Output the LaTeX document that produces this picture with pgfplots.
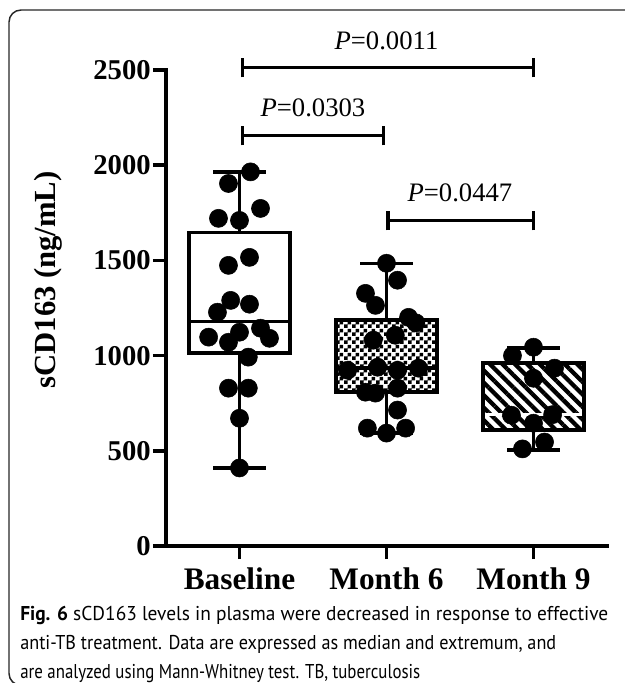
\documentclass[border=0pt]{standalone}
\usepackage{fontspec}
\usepackage{graphicx}
\setmainfont{Liberation Serif}
\newfontfamily\capfont{PT Sans}
\usepackage{pgfplots}
\pgfplotsset{compat=1.18}
\usepgfplotslibrary{statistics}
\usetikzlibrary{patterns,patterns.meta}
\pgfdeclarepatternformonly{mychecker}{\pgfpointorigin}{\pgfqpoint{5.6pt}{5.6pt}}{\pgfqpoint{5.6pt}{5.6pt}}{%
  \pgfpathrectangle{\pgfpointorigin}{\pgfqpoint{2.8pt}{2.8pt}}%
  \pgfpathrectangle{\pgfqpoint{2.8pt}{2.8pt}}{\pgfqpoint{2.8pt}{2.8pt}}%
  \pgfusepath{fill}}
\begin{document}
\begin{tikzpicture}
\useasboundingbox (0,0) rectangle (468.75pt,-512.25pt);
\draw[line width=1.1pt, black!85] (470pt,-7.5pt) -- (15.75pt,-7.5pt) arc[start angle=90,end angle=180,radius=9pt] -- (6.75pt,-505pt) arc[start angle=180,end angle=270,radius=9pt] -- (470pt,-514pt);
\begin{axis}[
  at={(124.5pt,-409.5pt)}, anchor=south west,
  scale only axis, width=330.75pt, height=357pt,
  xmin=0.5, xmax=3.5, ymin=0, ymax=2500,
  axis x line*=bottom, axis y line*=left,
  axis line style={line width=2.6pt, line cap=rect},
  xtick={1,2,3}, xticklabels={Baseline,Month 6,Month 9},
  ytick={0,500,1000,1500,2000,2500},
  tick style={line width=2.6pt, black},
  major tick length=9.75pt,
  tick align=outside,
  /pgf/number format/assume math mode=true,
  /pgf/number format/1000 sep={},
  yticklabel style={font=\bfseries\fontsize{21.5}{21.5}\selectfont, inner sep=1.5pt},
  xticklabel style={font=\bfseries\fontsize{23.5}{23.5}\selectfont, inner sep=2pt, yshift=-4pt},
  ylabel={\textbf{sCD163 (ng/mL)}},
  ylabel style={font=\fontsize{23}{23}\selectfont, at={(axis description cs:-0.268,0.559)}, anchor=center},
  clip=false,
  boxplot/draw direction=y,
]
\addplot[black, line width=2.6pt, boxplot prepared={draw position=1, median=1178, upper quartile=1647, lower quartile=1013, upper whisker=1965, lower whisker=410, box extend=0.687, whisker extend=0.354},
  boxplot/every box/.style={fill=white}] coordinates {};
\addplot[black, line width=2.6pt, boxplot prepared={draw position=2, median=935, upper quartile=1188, lower quartile=808, upper whisker=1485, lower whisker=593, box extend=0.687, whisker extend=0.354},
  boxplot/every box/.style={pattern=mychecker, pattern color=black}] coordinates {};
\addplot[black, line width=2.6pt, boxplot prepared={draw position=3, median=692, upper quartile=960, lower quartile=609, upper whisker=1040, lower whisker=504, box extend=0.687, whisker extend=0.354},
  boxplot/every box/.style={pattern={Lines[angle=-45,distance=6.6pt,line width=3.2pt]}, pattern color=black},
  boxplot/every median/.style={draw=white, line width=2.4pt, shorten <=1.4pt, shorten >=1.4pt}] coordinates {};
% data points
\addplot[only marks, mark=*, mark size=6.8pt, black] coordinates {
 (1.075,1965) (0.925,1904) (1.143,1773) (0.857,1721) (1.0,1710)
 (1.068,1516) (0.925,1474) (0.94,1290) (1.068,1270) (0.85,1228)
 (1.143,1144) (1.0,1123) (0.79,1097) (1.204,1091) (0.925,1070)
 (1.06,992) (0.925,829) (1.06,829) (1.0,671) (1.0,410)
};
\addplot[only marks, mark=*, mark size=6.8pt, black] coordinates {
 (2.0,1485) (2.075,1396) (1.857,1327) (1.925,1264) (2.15,1201)
 (2.2,1172) (2.06,1107) (1.91,1081) (1.735,923) (1.94,939)
 (2.075,923) (2.218,934) (1.857,808) (1.925,803) (2.075,829)
 (2.075,714) (1.87,619) (2.0,593) (2.13,619)
};
\addplot[only marks, mark=*, mark size=6.8pt, black] coordinates {
 (3.0,1044) (2.857,1000) (3.143,934) (3.0,881) (2.85,687)
 (3.13,690) (3.0,645) (3.075,546) (2.925,510)
};
% significance brackets
\draw[line width=2.6pt] (axis cs:1.02,2513) -- (axis cs:3.0,2513);
\draw[line width=2.6pt] (axis cs:1.02,2461) -- (axis cs:1.02,2565);
\draw[line width=2.6pt] (axis cs:3.0,2461) -- (axis cs:3.0,2565);
\node[font=\fontsize{20}{20}\selectfont] at (axis cs:2.0,2655) {\textit{P}=0.0011};
\draw[line width=2.6pt] (axis cs:1.02,2156) -- (axis cs:1.98,2156);
\draw[line width=2.6pt] (axis cs:1.02,2104) -- (axis cs:1.02,2208);
\draw[line width=2.6pt] (axis cs:1.98,2104) -- (axis cs:1.98,2208);
\node[font=\fontsize{20}{20}\selectfont] at (axis cs:1.5,2303) {\textit{P}=0.0303};
\draw[line width=2.6pt] (axis cs:2.01,1710) -- (axis cs:3.0,1710);
\draw[line width=2.6pt] (axis cs:2.01,1658) -- (axis cs:2.01,1762);
\draw[line width=2.6pt] (axis cs:3.0,1658) -- (axis cs:3.0,1762);
\node[font=\fontsize{20}{20}\selectfont] at (axis cs:2.5,1856) {\textit{P}=0.0447};
\end{axis}
\node[anchor=base west, inner sep=0pt, font=\capfont\fontsize{15}{15}\selectfont] at (15pt,-465pt) {\resizebox{441pt}{\height}{\textbf{Fig. 6} sCD163 levels in plasma were decreased in response to effective}};
\node[anchor=base west, inner sep=0pt, font=\capfont\fontsize{15}{15}\selectfont] at (15pt,-486.75pt) {\resizebox{402pt}{\height}{anti-TB treatment. Data are expressed as median and extremum, and}};
\node[anchor=base west, inner sep=0pt, font=\capfont\fontsize{15}{15}\selectfont] at (15pt,-508.5pt) {\resizebox{300pt}{\height}{are analyzed using Mann-Whitney test. TB, tuberculosis}};
\end{tikzpicture}
\end{document}
